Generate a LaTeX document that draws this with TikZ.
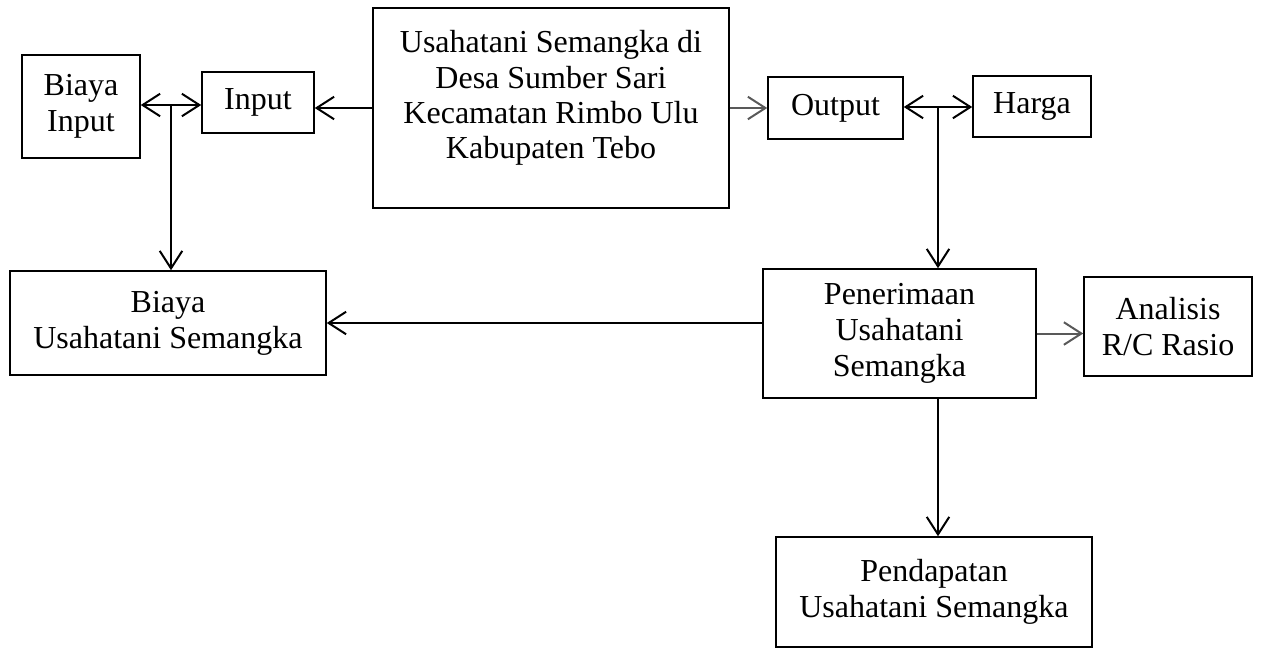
\documentclass[tikz,border=0pt]{standalone}
\usepackage{fontspec}
\setmainfont{Liberation Serif}
\usetikzlibrary{arrows.meta,positioning}

\begin{document}
\begin{tikzpicture}[x=0.4pt, y=-0.4pt]
\tikzset{
    mybox/.style={rectangle, draw=black, line width=0.6pt, inner sep=0pt, align=center, font=\fontsize{12.8}{14.4}\selectfont},
    myarrow/.style={-{Straight Barb[length=7pt,width=9pt]}, line width=0.8pt},
    greyarrow/.style={myarrow, draw=black!65}
}
\useasboundingbox (0,0) rectangle (1274,648);

\node[mybox, minimum width=47.2pt, minimum height=41.2pt] (biayainput) at (81,106.5) {Biaya\\Input};
\node[mybox, minimum width=44.8pt, minimum height=24.4pt] (input) at (258,102.5) {Input};
\node[mybox, minimum width=142.4pt, minimum height=80pt] (usahatani) at (551,108) {};
\node[align=center, inner sep=0pt, font=\fontsize{12.8}{14.1}\selectfont] (usahatanitext) at (551,98)
    {Usahatani Semangka di\\Desa Sumber Sari\\Kecamatan Rimbo Ulu\\Kabupaten Tebo};
\node[mybox, minimum width=54pt, minimum height=24.8pt] (output) at (835.5,108) {Output};
\node[mybox, minimum width=47.2pt, minimum height=24.4pt] (harga) at (1032,106.5) {Harga};
\node[mybox, minimum width=126.4pt, minimum height=41.6pt] (biayausaha) at (168,323) {Biaya\\Usahatani Semangka};
\node[mybox, minimum width=109.2pt, minimum height=51.6pt] (penerimaan) at (899.5,333.5) {Penerimaan\\Usahatani\\Semangka};
\node[mybox, minimum width=67.2pt, minimum height=39.6pt] (analisis) at (1168,326.5) {Analisis\\R/C Rasio};
\node[mybox, minimum width=126.4pt, minimum height=44pt] (pendapatan) at (934,592) {Pendapatan\\Usahatani Semangka};

% branch points of the double arrows
\coordinate (jin) at (171,105);
\coordinate (jout) at (938,107);

\draw[myarrow] (jin) -- (jin -| biayainput.east);
\draw[myarrow] (jin) -- (jin -| input.west);
\draw[myarrow] (jin) -- (jin |- biayausaha.north);
\draw[myarrow] (usahatani.west) -- (usahatani.west -| input.east);
\draw[greyarrow] (usahatani.east) -- (usahatani.east -| output.west);

\draw[myarrow] (jout) -- (jout -| output.east);
\draw[myarrow] (jout) -- (jout -| harga.west);
\draw[myarrow] (jout) -- (jout |- penerimaan.north);

\draw[myarrow] (penerimaan.west |- biayausaha.east) -- (biayausaha.east);
\draw[greyarrow] (penerimaan.east) -- (penerimaan.east -| analisis.west);
\draw[myarrow] (jout |- penerimaan.south) -- (jout |- pendapatan.north);

\end{tikzpicture}
\end{document}
